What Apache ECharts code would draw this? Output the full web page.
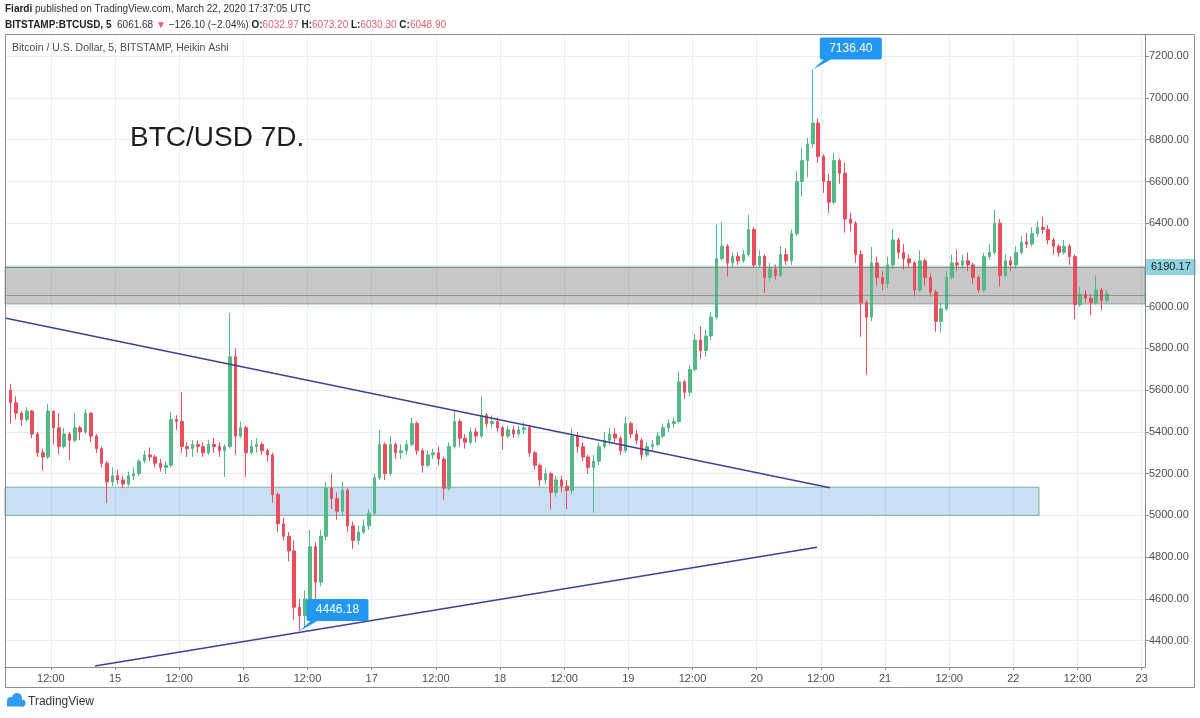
<!DOCTYPE html>
<html><head><meta charset="utf-8">
<script src="https://cdn.jsdelivr.net/npm/echarts@6/dist/echarts.min.js"></script>
<style>html,body{margin:0;padding:0;background:#fff}#c{width:1200px;height:718px}</style>
</head><body><div id="c"></div>
<script>
// Hourly Heikin-Ashi style candles: [open, close, low, high]
const day14 = [ // hours 04..23, March 14
[5600,5540,5440,5630],[5540,5490,5460,5570],[5490,5460,5430,5500],[5460,5500,5450,5520],
[5500,5390,5370,5505],[5390,5300,5280,5400],[5300,5280,5215,5320],[5280,5500,5270,5535],
[5500,5420,5340,5500],[5420,5330,5295,5490],[5330,5390,5320,5420],[5390,5360,5265,5400],
[5360,5420,5350,5490],[5420,5400,5360,5430],[5400,5490,5390,5510],[5490,5380,5350,5495],
[5380,5320,5300,5390],[5320,5250,5230,5330],[5250,5160,5060,5260],[5160,5190,5140,5230]];
const day15 = [
[5190,5170,5150,5220],[5170,5150,5130,5190],[5150,5190,5140,5210],[5190,5200,5170,5230],
[5200,5260,5190,5270],[5260,5290,5250,5310],[5290,5280,5260,5325],[5280,5250,5230,5290],
[5250,5230,5210,5270],[5230,5240,5200,5260],[5240,5460,5230,5495],[5460,5450,5410,5480],
[5450,5330,5300,5590],[5330,5320,5280,5350],[5320,5340,5280,5360],[5340,5330,5300,5360],
[5330,5300,5280,5350],[5300,5340,5290,5360],[5340,5330,5300,5370],[5330,5310,5280,5350],
[5310,5330,5185,5340],[5330,5760,5320,5970],[5760,5380,5290,5800],[5380,5420,5370,5450]];
const day16 = [
[5420,5300,5185,5430],[5300,5330,5290,5360],[5330,5340,5300,5370],[5340,5310,5290,5350],
[5310,5290,5260,5320],[5290,5100,5060,5300],[5100,4960,4920,5110],[4960,4900,4880,4990],
[4900,4830,4780,4920],[4830,4560,4500,4880],[4560,4520,4446.18,4600],[4520,4600,4460,4640],
[4600,4850,4580,4930],[4850,4680,4600,4870],[4680,4900,4660,4930],[4900,5130,4880,5160],
[5130,5080,5030,5200],[5080,5020,4980,5110],[5020,5120,5000,5160],[5120,4950,4920,5130],
[4950,4880,4840,4970],[4880,4920,4860,4950],[4920,4950,4910,4980],[4950,5010,4930,5030]];
const day17 = [
[5010,5180,5000,5200],[5180,5340,5170,5410],[5340,5200,5170,5350],[5200,5340,5190,5380],
[5340,5300,5270,5350],[5300,5310,5270,5340],[5310,5340,5290,5360],[5340,5440,5330,5468],
[5440,5310,5290,5450],[5310,5240,5205,5320],[5240,5290,5230,5310],[5290,5300,5270,5320],
[5300,5270,5240,5330],[5270,5130,5075,5280],[5130,5330,5120,5350],[5330,5450,5320,5507],
[5450,5370,5330,5460],[5370,5350,5320,5390],[5350,5400,5340,5420],[5400,5380,5350,5420],
[5380,5480,5370,5570],[5480,5440,5420,5490],[5440,5450,5420,5480],[5450,5420,5400,5470]];
const day18 = [
[5420,5380,5315,5430],[5380,5410,5370,5430],[5410,5390,5370,5430],[5390,5410,5380,5430],
[5410,5420,5390,5445],[5420,5300,5280,5430],[5300,5240,5220,5310],[5240,5170,5140,5250],
[5170,5200,5150,5225],[5200,5110,5028,5210],[5110,5170,5090,5190],[5170,5140,5110,5190],
[5140,5120,5030,5170],[5120,5380,5100,5420],[5380,5330,5300,5400],[5330,5280,5260,5350],
[5280,5230,5200,5290],[5230,5260,5013,5290],[5260,5330,5240,5350],[5330,5360,5320,5400],
[5360,5390,5340,5420],[5390,5370,5350,5420],[5370,5310,5290,5380],[5310,5440,5300,5474]];
const day19 = [
[5440,5390,5370,5450],[5390,5360,5340,5410],[5360,5290,5267,5370],[5290,5330,5280,5350],
[5330,5340,5310,5360],[5340,5380,5330,5400],[5380,5420,5370,5440],[5420,5440,5400,5460],
[5440,5450,5420,5470],[5450,5640,5440,5690],[5640,5590,5560,5650],[5590,5700,5570,5720],
[5700,5840,5690,5870],[5840,5790,5750,5905],[5790,5860,5760,5890],[5860,5950,5840,5975],
[5950,6230,5940,6393],[6230,6290,6220,6407],[6290,6210,6145,6300],[6210,6240,6190,6260],
[6240,6220,6200,6260],[6220,6250,6210,6270],[6250,6370,6240,6441],[6370,6200,6190,6380]];
const day20 = [
[6200,6240,6190,6270],[6240,6140,6067,6250],[6140,6180,6120,6210],[6180,6150,6130,6200],
[6150,6250,6140,6290],[6250,6220,6200,6280],[6220,6350,6200,6370],[6350,6600,6340,6650],
[6600,6700,6527,6760],[6700,6780,6620,6810],[6780,6880,6760,7136.40],[6880,6720,6690,6900],
[6720,6600,6545,6730],[6600,6500,6450,6640],[6500,6700,6490,6737],[6700,6640,6590,6710],
[6640,6420,6354,6690],[6420,6400,6360,6450],[6400,6250,6210,6410],[6250,6020,5856,6270],
[6020,5950,5674,6030],[5950,6210,5930,6287],[6210,6140,6100,6240],[6140,6110,6080,6170]];
const day21 = [
[6110,6200,6090,6240],[6200,6320,6180,6370],[6320,6260,6230,6330],[6260,6230,6177,6300],
[6230,6210,6190,6250],[6210,6080,6048,6220],[6080,6220,6070,6270],[6220,6140,6100,6230],
[6140,6070,6048,6160],[6070,5930,5880,6080],[5930,5990,5875,6020],[5990,6140,5980,6170],
[6140,6210,6130,6250],[6210,6200,6170,6273],[6200,6220,6180,6250],[6220,6200,6170,6260],
[6200,6140,6110,6210],[6140,6080,6067,6150],[6080,6240,6070,6258],[6240,6260,6225,6300],
[6260,6400,6250,6465],[6400,6150,6096,6420],[6150,6220,6140,6250],[6220,6200,6170,6240]];
const day22 = [ // hours 00..17, March 22
[6200,6260,6180,6290],[6260,6310,6250,6340],[6310,6300,6280,6354],[6300,6350,6290,6380],
[6350,6380,6335,6410],[6380,6370,6350,6431],[6370,6320,6300,6390],[6320,6290,6250,6330],
[6290,6260,6240,6300],[6260,6290,6250,6320],[6290,6240,6200,6300],[6240,6010,5940,6250],
[6010,6060,6000,6096],[6060,6040,6020,6080],[6040,6020,5960,6060],[6020,6080,6010,6150],
[6080,6030,5985,6090],[6030,6061.68,6020,6080]];
const days = [[14,4,day14],[15,0,day15],[16,0,day16],[17,0,day17],[18,0,day18],[19,0,day19],[20,0,day20],[21,0,day21],[22,0,day22]];

// x is hours since 14 March 00:00 UTC
const xRange = [3.43, 216.62];
const yRange = [4273.6, 7306.7];
const bandGray = [6013, 6190.17];
const bandGrayMid = 6053;
const bandGrayTopLineEnd = 83.3;
const bandBlue = [5000, 5135];
const bandBlueEnd = 196.8;
const trendUpper = [[3.43, 5946], [157.7, 5133]];
const trendLower = [[20.26, 4278], [155.3, 4847]];
const callouts = [[154.5, 7136.40], [58.5, 4446.18]];

const upColor = '#53b987', downColor = '#eb4d5c';
const F = '"Liberation Sans", Arial, sans-serif';

const candles = [];
days.forEach(([d, h0, arr]) => arr.forEach((v, i) => {
  candles.push([(d - 14) * 24 + h0 + i + 0.5, v[0], v[1], v[2], v[3]]);
}));

const calloutPath = 'path://M9,0 L67,0 Q69,0 69,2 L69,20 Q69,22 67,22 L18,22 L0,32 L11,22 L9,22 Q7,22 7,20 L7,2 Q7,0 9,0 Z';

const chart = echarts.init(document.getElementById('c'));
chart.setOption({
  animation: false,
  backgroundColor: '#ffffff',
  grid: { left: 5, right: 55, top: 34, bottom: 51 },
  xAxis: {
    type: 'value', min: xRange[0], max: xRange[1], minInterval: 12, maxInterval: 12,
    axisLine: { show: true, onZero: false, lineStyle: { color: '#8c8c8c' } },
    axisTick: { show: true, length: 3, lineStyle: { color: '#8c8c8c' } },
    axisLabel: { interval: 0, showMinLabel: false, showMaxLabel: false, margin: 6, color: '#4d4d4d', fontSize: 11, fontFamily: F,
      formatter: v => (Math.round(v) % 24 === 0 ? String(14 + Math.round(v) / 24) : '12:00') },
    splitLine: { show: true, lineStyle: { color: '#e9eef2' } }
  },
  yAxis: {
    type: 'value', position: 'right', min: yRange[0], max: yRange[1], minInterval: 200, maxInterval: 200, splitNumber: 15,
    axisLine: { show: true, lineStyle: { color: '#8c8c8c' } },
    axisTick: { show: true, length: 4, lineStyle: { color: '#8c8c8c' } },
    axisLabel: { showMinLabel: false, showMaxLabel: false, margin: 4, color: '#4d4d4d', fontSize: 11, fontFamily: F,
      formatter: v => v.toFixed(2) },
    splitLine: { show: true, lineStyle: { color: '#e9eef2' } }
  },
  series: [
    {
      type: 'candlestick', data: candles, encode: { x: 0, y: [1, 2, 3, 4] }, barWidth: 3, z: 2,
      itemStyle: { color: upColor, color0: downColor, borderColor: upColor, borderColor0: downColor, borderWidth: 1 }
    },
    {
      type: 'line', data: [], z: 5, silent: true,
      markArea: {
        silent: true,
        data: [
          [{ yAxis: bandGray[1], itemStyle: { color: 'rgba(110,110,110,0.38)', borderColor: 'rgba(90,130,105,0.6)', borderWidth: 1 } }, { yAxis: bandGray[0] }],
          [{ coord: [xRange[0], bandBlue[1]], itemStyle: { color: 'rgba(90,155,220,0.32)', borderColor: '#7fb39a', borderWidth: 1 } }, { coord: [bandBlueEnd, bandBlue[0]] }]
        ]
      },
      markLine: {
        silent: true, symbol: 'none', label: { show: false },
        lineStyle: { type: 'solid' },
        data: [
          [{ coord: trendUpper[0], lineStyle: { color: '#40409c', width: 1.5, type: 'solid' } }, { coord: trendUpper[1] }],
          [{ coord: trendLower[0], lineStyle: { color: '#40409c', width: 1.5, type: 'solid' } }, { coord: trendLower[1] }],
          { yAxis: bandGrayMid, lineStyle: { color: 'rgba(95,115,105,0.55)', width: 1, type: 'solid' } },
          [{ coord: [xRange[0], bandGray[1]], lineStyle: { color: '#6a9a7c', width: 1, type: 'solid' } }, { coord: [bandGrayTopLineEnd, bandGray[1]] }],
          { yAxis: bandGray[1], lineStyle: { color: 'rgba(90,130,105,0.6)', width: 1, type: 'solid' },
            label: { show: true, position: 'end', distance: 1, formatter: bandGray[1].toFixed(2), backgroundColor: '#8fd3de',
              color: '#1a1a1a', fontSize: 11, fontFamily: F, padding: [3, 5, 2, 5] } }
        ]
      },
      markPoint: {
        silent: true,
        data: callouts.map(c => ({
          coord: c, symbol: calloutPath, symbolSize: [69, 32], symbolOffset: [34.5, -16], symbolKeepAspect: false,
          itemStyle: { color: '#2196f3' },
          label: { show: true, position: 'inside', offset: [3.5, -5], color: '#ffffff', fontSize: 12, fontFamily: F, formatter: c[1].toFixed(2) }
        }))
      }
    }
  ],
  graphic: [
    { type: 'rect', shape: { x: 5.5, y: 34.5, width: 1189, height: 653 }, style: { fill: 'none', stroke: '#8c8c8c', lineWidth: 1 }, z: 10, silent: true },
    { type: 'text', x: 5, y: 9, z: 10, style: { text: '{b|Fiardi} published on TradingView.com, March 22, 2020 17:37:05 UTC', font: '10px ' + F, fill: '#333',
      verticalAlign: 'middle', rich: { b: { fontWeight: 'bold', fontSize: 10, fontFamily: F, fill: '#222' } } } },
    { type: 'text', x: 5, y: 25, z: 10, style: {
      text: '{b|BITSTAMP:BTCUSD, 5}  6061.68 {r|▼} −126.10 (−2.04%) {b|O:}{r|6032.97} {b|H:}{r|6073.20} {b|L:}{r|6030.30} {b|C:}{r|6048.90}',
      font: '10px ' + F, fill: '#333', verticalAlign: 'middle',
      rich: { b: { fontWeight: 'bold', fontSize: 10, fontFamily: F, fill: '#222' }, r: { fontSize: 10, fontFamily: F, fill: '#e8606b' } } } },
    { type: 'text', x: 12, y: 48, z: 10, style: { text: 'Bitcoin / U.S. Dollar, 5, BITSTAMP, Heikin Ashi', font: '10.5px ' + F, fill: '#4d4d4d', verticalAlign: 'middle' } },
    { type: 'text', x: 130, y: 138, z: 10, style: { text: 'BTC/USD 7D.', font: '28px ' + F, fill: '#1e1e1e', verticalAlign: 'middle' } },
    { type: 'group', x: 0, y: 0, z: 10, children: [
      { type: 'circle', shape: { cx: 11, cy: 701, r: 4 }, style: { fill: '#2e9cf2' } },
      { type: 'circle', shape: { cx: 17, cy: 698, r: 5 }, style: { fill: '#2e9cf2' } },
      { type: 'circle', shape: { cx: 22, cy: 703, r: 3.5 }, style: { fill: '#2e9cf2' } },
      { type: 'rect', shape: { x: 7, y: 702, width: 17, height: 4.5 }, style: { fill: '#2e9cf2' } }
    ] },
    { type: 'text', x: 28, y: 702, z: 10, style: { text: 'TradingView', font: '12px ' + F, fill: '#333', verticalAlign: 'middle' } }
  ]
});
</script>
</body></html>
